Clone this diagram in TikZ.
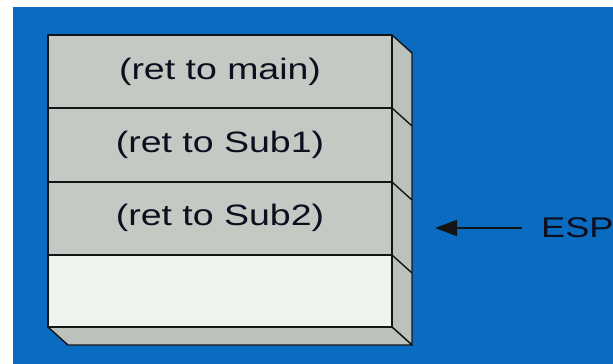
\documentclass[tikz,border=0pt]{standalone}
\usepackage{fontspec}
\setmainfont{Liberation Sans}
\usetikzlibrary{arrows.meta}
\definecolor{bgblue}{HTML}{0A6CC0}
\definecolor{cellgray}{HTML}{C5C9C4}
\definecolor{sidegray}{HTML}{BDC1BC}
\definecolor{cellpale}{HTML}{EEF5EE}
\definecolor{edge}{HTML}{141416}
\definecolor{ink}{HTML}{0E0E1E}
\newcommand{\celltext}[1]{\fontsize{29.5}{32}\selectfont\scalebox{1.27}[1]{#1}}
\begin{document}
\begin{tikzpicture}[x=1pt,y=-1pt,
  cell/.style={draw=edge,line width=1.7pt,line join=round},
  face/.style={draw=edge,line width=1.4pt,fill=sidegray,line join=round},
  label/.style={text=ink,inner sep=0pt}]
\useasboundingbox (0,0) rectangle (613,364);
\fill[white] (0,0) rectangle (613,364);
\fill[bgblue] (13,7) rectangle (613,364);
% side and bottom faces of the stack
\draw[face] (392,35) -- (412,53) -- (412,345) -- (392,327) -- cycle;
\draw[face] (48,327) -- (392,327) -- (412,345) -- (68,345) -- cycle;
\foreach \y in {108,182,255} \draw[edge,line width=1.4pt] (392,\y) -- (412,\y+18);
% front cells
\draw[cell,fill=cellgray] (48,35) rectangle (392,108);
\draw[cell,fill=cellgray] (48,108) rectangle (392,182);
\draw[cell,fill=cellgray] (48,182) rectangle (392,255);
\draw[cell,fill=cellpale] (48,255) rectangle (392,327);
\node[label] (r1) at (220,72) {\celltext{(ret to main)}};
\node[label] (r2) at (220,145) {\celltext{(ret to Sub1)}};
\node[label] (r3) at (220,218) {\celltext{(ret to Sub2)}};
% stack pointer
\node[label,anchor=west] (esp) at (541,228) {\fontsize{28.5}{30}\selectfont\scalebox{1.27}[1]{ESP}};
\coordinate (tip) at (435,228);
\draw[edge,line width=2pt,-{Triangle[length=22pt,width=16pt]}] (esp.west) ++(-19,0) -- (tip);
\end{tikzpicture}
\end{document}
